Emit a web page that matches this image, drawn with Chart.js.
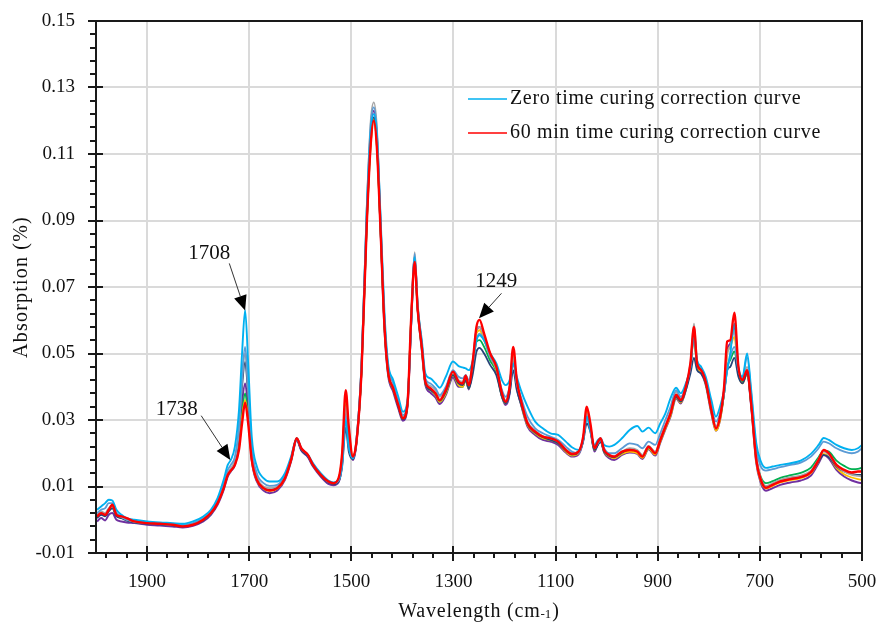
<!DOCTYPE html>
<html>
<head>
<meta charset="utf-8">
<script src="https://cdn.jsdelivr.net/npm/chart.js@4.4.0/dist/chart.umd.min.js"></script>
<style>
    html, body { margin: 0; padding: 0; background: #fff; }
</style>
</head>
<body>
<canvas id="spectrumChart" width="882" height="630"></canvas>
<script>
// Wavenumbers (cm-1), shared by every curve
const wavenumbers = [
    1998, 1990, 1982, 1975, 1968, 1960, 1950, 1940, 1925, 1900,
    1875, 1850, 1830, 1810, 1790, 1775, 1762, 1750, 1742, 1736,
    1728, 1720, 1714, 1708, 1702, 1695, 1685, 1672, 1660, 1645,
    1630, 1618, 1607, 1598, 1585, 1575, 1560, 1545, 1535, 1525,
    1518, 1511, 1505, 1497, 1490, 1480, 1470, 1462, 1456, 1450,
    1443, 1435, 1428, 1418, 1408, 1399, 1390, 1383, 1376, 1370,
    1362, 1355, 1345, 1335, 1327, 1315, 1301, 1290, 1282, 1276,
    1270, 1262, 1255, 1249, 1240, 1228, 1216, 1205, 1198, 1190,
    1183, 1176, 1168, 1155, 1140, 1125, 1110, 1095, 1080, 1068,
    1055, 1046, 1039, 1032, 1024, 1017, 1012, 1005, 995, 985,
    970, 955, 940, 930, 918, 905, 895, 885, 875, 864,
    855, 845, 836, 829, 823, 815, 806, 795, 786, 778,
    770, 764, 758, 750, 742, 734, 725, 717, 707, 698,
    688, 675, 660, 640, 620, 600, 585, 575, 565, 550,
    535, 520, 508, 500
];

const zeroTime = [
    0.003, 0.004, 0.005, 0.006, 0.0058, 0.003, 0.0015, 0.0005, 0.0, -0.0005,
    -0.0008, -0.001, -0.0012, -0.0005, 0.001, 0.003, 0.0065, 0.012, 0.0165, 0.018,
    0.022, 0.033, 0.050, 0.063, 0.047, 0.025, 0.016, 0.0125, 0.0115, 0.0115,
    0.014, 0.019, 0.0245, 0.0215, 0.0195, 0.017, 0.014, 0.0118, 0.0112, 0.012,
    0.017, 0.030, 0.022, 0.0185, 0.024, 0.047, 0.092, 0.117, 0.122, 0.116,
    0.092, 0.062, 0.047, 0.042, 0.037, 0.0325, 0.036, 0.058, 0.079, 0.064,
    0.054, 0.044, 0.0425, 0.041, 0.0397, 0.043, 0.0476, 0.0462, 0.0458, 0.0455,
    0.045, 0.048, 0.054, 0.0555, 0.054, 0.050, 0.047, 0.042, 0.0405, 0.042,
    0.047, 0.043, 0.039, 0.034, 0.0295, 0.0275, 0.026, 0.0255, 0.0235, 0.0218,
    0.021, 0.0245, 0.031, 0.027, 0.0225, 0.024, 0.0245, 0.0225, 0.022, 0.0225,
    0.0245, 0.027, 0.0282, 0.0265, 0.0277, 0.026, 0.029, 0.032, 0.0365, 0.0397,
    0.038, 0.041, 0.046, 0.056, 0.048, 0.046, 0.043, 0.036, 0.031, 0.034,
    0.039, 0.045, 0.050, 0.059, 0.046, 0.043, 0.050, 0.039, 0.023, 0.0175,
    0.0156, 0.016, 0.0165, 0.017, 0.0178, 0.0198, 0.0225, 0.0246, 0.024, 0.0225,
    0.0215, 0.021, 0.0215, 0.0225
];

const steelBlue = [
    0.002, 0.003, 0.0035, 0.005, 0.005, 0.002, 0.001, 0.0, -0.0005, -0.0008,
    -0.001, -0.0012, -0.0015, -0.001, 0.0005, 0.0025, 0.006, 0.011, 0.015, 0.0165,
    0.019, 0.028, 0.043, 0.052, 0.040, 0.022, 0.014, 0.011, 0.0102, 0.0105,
    0.0135, 0.0185, 0.0245, 0.0215, 0.0195, 0.0168, 0.0138, 0.0115, 0.011, 0.0118,
    0.0165, 0.031, 0.022, 0.0185, 0.024, 0.047, 0.093, 0.119, 0.124, 0.117,
    0.091, 0.060, 0.046, 0.041, 0.0355, 0.0315, 0.0355, 0.059, 0.080, 0.064,
    0.053, 0.0425, 0.041, 0.0395, 0.0375, 0.040, 0.045, 0.043, 0.0425, 0.0435,
    0.042, 0.047, 0.054, 0.056, 0.054, 0.049, 0.0455, 0.039, 0.037, 0.040,
    0.047, 0.041, 0.037, 0.031, 0.0275, 0.026, 0.025, 0.024, 0.022, 0.0205,
    0.020, 0.024, 0.031, 0.027, 0.022, 0.023, 0.024, 0.0215, 0.020, 0.020,
    0.0215, 0.023, 0.0225, 0.0215, 0.0235, 0.0225, 0.026, 0.030, 0.034, 0.039,
    0.037, 0.040, 0.046, 0.055, 0.047, 0.045, 0.042, 0.034, 0.0295, 0.032,
    0.038, 0.045, 0.049, 0.052, 0.045, 0.0425, 0.049, 0.038, 0.0215, 0.016,
    0.0148, 0.0152, 0.0158, 0.0165, 0.0172, 0.019, 0.0215, 0.0235, 0.023, 0.0215,
    0.0205, 0.020, 0.0205, 0.0215
];

const grayRun = [
    0.0015, 0.0025, 0.002, 0.0035, 0.004, 0.0015, 0.0008, 0.0, -0.0006, -0.001,
    -0.0012, -0.0015, -0.0018, -0.0013, 0.0, 0.002, 0.0055, 0.010, 0.014, 0.0155,
    0.018, 0.027, 0.042, 0.050, 0.039, 0.021, 0.013, 0.010, 0.0095, 0.010,
    0.013, 0.0183, 0.0245, 0.0215, 0.0195, 0.0166, 0.0136, 0.0114, 0.011, 0.012,
    0.018, 0.034, 0.024, 0.0188, 0.024, 0.047, 0.093, 0.120, 0.1255, 0.118,
    0.091, 0.060, 0.046, 0.041, 0.0352, 0.031, 0.0355, 0.060, 0.0805, 0.065,
    0.053, 0.042, 0.0402, 0.039, 0.037, 0.0395, 0.0445, 0.042, 0.0415, 0.0435,
    0.041, 0.048, 0.057, 0.058, 0.055, 0.0495, 0.0458, 0.0385, 0.036, 0.040,
    0.049, 0.041, 0.0365, 0.0295, 0.0268, 0.0252, 0.0245, 0.0235, 0.0212, 0.020,
    0.0205, 0.0245, 0.032, 0.028, 0.0215, 0.0232, 0.024, 0.021, 0.0195, 0.0192,
    0.0205, 0.0215, 0.021, 0.0195, 0.0222, 0.0205, 0.0245, 0.0285, 0.0325, 0.0385,
    0.0365, 0.0405, 0.047, 0.059, 0.048, 0.0455, 0.042, 0.0335, 0.028, 0.0315,
    0.039, 0.050, 0.052, 0.057, 0.0455, 0.0425, 0.046, 0.036, 0.019, 0.0125,
    0.0102, 0.011, 0.012, 0.0128, 0.0133, 0.0148, 0.0182, 0.0205, 0.0195, 0.0163,
    0.0145, 0.0135, 0.0132, 0.013
];

const navyRun = [
    0.0005, 0.0015, 0.001, 0.0025, 0.0035, 0.001, 0.0005, -0.0003, -0.0008, -0.0012,
    -0.0014, -0.0017, -0.002, -0.0015, -0.0002, 0.0018, 0.005, 0.0095, 0.0135, 0.015,
    0.0172, 0.026, 0.040, 0.0475, 0.037, 0.020, 0.0125, 0.0097, 0.009, 0.0097,
    0.0127, 0.018, 0.024, 0.021, 0.019, 0.0163, 0.0133, 0.0112, 0.0107, 0.0115,
    0.016, 0.0277, 0.0205, 0.0182, 0.0232, 0.045, 0.089, 0.115, 0.121, 0.114,
    0.088, 0.058, 0.0445, 0.0395, 0.034, 0.0302, 0.0345, 0.058, 0.078, 0.063,
    0.052, 0.041, 0.039, 0.0378, 0.0358, 0.0385, 0.0435, 0.041, 0.0405, 0.042,
    0.0395, 0.044, 0.0505, 0.0517, 0.050, 0.0465, 0.0435, 0.037, 0.035, 0.038,
    0.045, 0.039, 0.035, 0.0288, 0.0262, 0.0248, 0.024, 0.023, 0.0208, 0.0196,
    0.0202, 0.0235, 0.029, 0.0265, 0.021, 0.0225, 0.0235, 0.0205, 0.0192, 0.0188,
    0.0202, 0.0212, 0.0207, 0.0193, 0.0218, 0.0202, 0.024, 0.028, 0.032, 0.037,
    0.0355, 0.039, 0.044, 0.0487, 0.045, 0.044, 0.041, 0.033, 0.0278, 0.031,
    0.038, 0.045, 0.046, 0.0487, 0.043, 0.041, 0.044, 0.0345, 0.0185, 0.012,
    0.0098, 0.0106, 0.0116, 0.0123, 0.0129, 0.0144, 0.0175, 0.0195, 0.0188, 0.016,
    0.0145, 0.0137, 0.0135, 0.0135
];

const purpleRun = [
    -0.0005, 0.0005, -0.0002, 0.0015, 0.002, 0.0, -0.0005, -0.0008, -0.001, -0.0015,
    -0.0017, -0.002, -0.0023, -0.0018, -0.0005, 0.0015, 0.0045, 0.009, 0.013, 0.0145,
    0.0165, 0.023, 0.035, 0.041, 0.033, 0.018, 0.0115, 0.0088, 0.008, 0.0088,
    0.012, 0.0175, 0.024, 0.0208, 0.0188, 0.016, 0.013, 0.0108, 0.0104, 0.0113,
    0.0175, 0.034, 0.024, 0.018, 0.023, 0.045, 0.089, 0.116, 0.123, 0.115,
    0.088, 0.057, 0.0435, 0.0385, 0.0335, 0.0298, 0.034, 0.059, 0.079, 0.063,
    0.051, 0.0405, 0.0382, 0.0367, 0.0348, 0.0375, 0.0428, 0.040, 0.040, 0.0422,
    0.0392, 0.047, 0.057, 0.058, 0.055, 0.049, 0.045, 0.037, 0.0345, 0.038,
    0.050, 0.040, 0.0348, 0.028, 0.0255, 0.024, 0.0235, 0.0225, 0.0202, 0.019,
    0.0197, 0.024, 0.032, 0.028, 0.0205, 0.0228, 0.0238, 0.0202, 0.0185, 0.018,
    0.0195, 0.0202, 0.0198, 0.0183, 0.0212, 0.0193, 0.0232, 0.0272, 0.031, 0.0365,
    0.035, 0.039, 0.046, 0.057, 0.046, 0.044, 0.0405, 0.032, 0.0268, 0.030,
    0.039, 0.051, 0.053, 0.058, 0.0445, 0.0415, 0.044, 0.034, 0.017, 0.011,
    0.0087, 0.0095, 0.0105, 0.0112, 0.0118, 0.0133, 0.017, 0.0195, 0.0185, 0.015,
    0.013, 0.0118, 0.0112, 0.011
];

const greenRun = [
    0.0008, 0.0018, 0.0012, 0.0028, 0.0035, 0.0012, 0.0006, 0.0, -0.0007, -0.0011,
    -0.0013, -0.0016, -0.0019, -0.0014, 0.0, 0.0019, 0.0052, 0.0095, 0.0135, 0.0148,
    0.0168, 0.022, 0.032, 0.038, 0.031, 0.0185, 0.012, 0.0095, 0.0088, 0.0095,
    0.0125, 0.018, 0.0245, 0.0213, 0.0193, 0.0164, 0.0134, 0.0114, 0.0109, 0.0122,
    0.019, 0.036, 0.026, 0.0188, 0.0233, 0.045, 0.088, 0.113, 0.1205, 0.1125,
    0.088, 0.058, 0.0442, 0.0392, 0.0342, 0.0303, 0.0348, 0.060, 0.0775, 0.063,
    0.0515, 0.041, 0.039, 0.0375, 0.0355, 0.038, 0.0435, 0.0405, 0.040, 0.042,
    0.0395, 0.046, 0.0535, 0.054, 0.052, 0.0478, 0.0445, 0.037, 0.035, 0.039,
    0.049, 0.0405, 0.035, 0.0285, 0.026, 0.0245, 0.024, 0.023, 0.0207, 0.0195,
    0.0202, 0.024, 0.031, 0.0275, 0.021, 0.0228, 0.0238, 0.0205, 0.019, 0.0187,
    0.020, 0.0207, 0.0202, 0.0188, 0.0215, 0.0198, 0.0237, 0.0277, 0.0315, 0.037,
    0.0355, 0.0395, 0.046, 0.055, 0.046, 0.0445, 0.041, 0.0327, 0.0272, 0.0305,
    0.038, 0.046, 0.048, 0.0506, 0.044, 0.0415, 0.044, 0.035, 0.0185, 0.0128,
    0.011, 0.0116, 0.0126, 0.0134, 0.0141, 0.0157, 0.0188, 0.0208, 0.0205, 0.0178,
    0.0162, 0.0152, 0.0153, 0.0157
];

const goldRun = [
    0.0012, 0.0022, 0.0018, 0.003, 0.004, 0.0013, 0.0007, 0.0, -0.0006, -0.001,
    -0.0012, -0.0015, -0.0019, -0.0014, 0.0, 0.002, 0.005, 0.0095, 0.0135, 0.0148,
    0.0167, 0.0215, 0.031, 0.036, 0.030, 0.018, 0.012, 0.0094, 0.0087, 0.0094,
    0.0124, 0.018, 0.0245, 0.0213, 0.0193, 0.0164, 0.0134, 0.0114, 0.0109, 0.0123,
    0.0195, 0.037, 0.027, 0.019, 0.0233, 0.045, 0.088, 0.113, 0.1205, 0.1125,
    0.088, 0.058, 0.0443, 0.0393, 0.0343, 0.0303, 0.0348, 0.060, 0.0775, 0.063,
    0.0515, 0.041, 0.039, 0.0375, 0.0355, 0.038, 0.0435, 0.0405, 0.040, 0.042,
    0.0395, 0.047, 0.056, 0.057, 0.054, 0.049, 0.045, 0.0372, 0.035, 0.0395,
    0.0505, 0.041, 0.0352, 0.0285, 0.026, 0.0245, 0.024, 0.023, 0.0205, 0.0193,
    0.020, 0.0245, 0.033, 0.028, 0.021, 0.023, 0.024, 0.0205, 0.019, 0.0185,
    0.0198, 0.0205, 0.020, 0.0186, 0.0215, 0.0196, 0.0235, 0.0275, 0.0313, 0.0368,
    0.0352, 0.0392, 0.0462, 0.0565, 0.046, 0.0443, 0.0408, 0.0325, 0.0268, 0.030,
    0.0385, 0.050, 0.052, 0.055, 0.044, 0.041, 0.044, 0.0345, 0.0175, 0.0115,
    0.0094, 0.0102, 0.0112, 0.0119, 0.0125, 0.014, 0.0175, 0.0198, 0.019, 0.0156,
    0.0137, 0.0127, 0.0122, 0.012
];

const sixtyMin = [
    0.001, 0.002, 0.0015, 0.003, 0.0045, 0.0015, 0.001, 0.0005, -0.0005, -0.001,
    -0.0012, -0.0015, -0.002, -0.0015, 0.0, 0.002, 0.005, 0.0095, 0.0135, 0.0148,
    0.0165, 0.021, 0.029, 0.0352, 0.029, 0.018, 0.012, 0.0095, 0.0088, 0.0095,
    0.0125, 0.018, 0.0245, 0.0215, 0.0195, 0.0165, 0.0135, 0.0115, 0.011, 0.0125,
    0.020, 0.039, 0.028, 0.019, 0.0235, 0.045, 0.088, 0.113, 0.120, 0.112,
    0.088, 0.058, 0.0445, 0.0395, 0.0345, 0.0305, 0.035, 0.060, 0.0775, 0.063,
    0.052, 0.0415, 0.0395, 0.038, 0.036, 0.039, 0.0445, 0.0415, 0.041, 0.0433,
    0.0405, 0.048, 0.058, 0.0601, 0.056, 0.050, 0.046, 0.038, 0.0355, 0.040,
    0.052, 0.042, 0.036, 0.029, 0.0265, 0.025, 0.0245, 0.0235, 0.021, 0.0198,
    0.0205, 0.025, 0.034, 0.029, 0.0215, 0.0235, 0.0245, 0.021, 0.0195, 0.019,
    0.0205, 0.021, 0.0205, 0.019, 0.022, 0.020, 0.024, 0.028, 0.032, 0.0376,
    0.036, 0.040, 0.047, 0.058, 0.047, 0.045, 0.0415, 0.033, 0.0275, 0.031,
    0.040, 0.0536, 0.054, 0.0623, 0.046, 0.042, 0.045, 0.035, 0.018, 0.012,
    0.0096, 0.0105, 0.0115, 0.0122, 0.0128, 0.0143, 0.018, 0.021, 0.020, 0.0165,
    0.015, 0.0142, 0.0145, 0.0145
];

// Axis ticks
const xMajorTicks = [1900, 1700, 1500, 1300, 1100, 900, 700, 500];
const xMinorStep = 40;
const yMajorTicks = [-0.01, 0.01, 0.03, 0.05, 0.07, 0.09, 0.11, 0.13, 0.15];
const yMinorPerMajor = 5;

// Peak call-outs: [wavenumber, absorption] for label, line start and arrow tip
const callouts = [
    { text: '1708', label: [1778, 0.0801], from: [1739, 0.0771], tip: [1708, 0.0629] },
    { text: '1738', label: [1842, 0.0333], from: [1794, 0.0313], tip: [1737, 0.0180] },
    { text: '1249', label: [1216, 0.0716], from: [1206, 0.0681], tip: [1250, 0.0606] }
];

const FONT = '"Liberation Serif", "DejaVu Serif", serif';
const ZERO_COLOR = '#00B0F0';
const SIXTY_COLOR = '#FF0000';

const seriesList = [
    { label: 'Zero time curing correction curve', values: zeroTime, color: ZERO_COLOR, width: 1.9, order: 1, legend: true },
    { label: 'run 2', values: steelBlue, color: '#5B9BD5', width: 1.8, order: 2 },
    { label: 'run 3', values: grayRun, color: '#A5A5A5', width: 1.8, order: 3 },
    { label: 'run 4', values: greenRun, color: '#00B050', width: 1.8, order: 6 },
    { label: 'run 5', values: goldRun, color: '#FFC000', width: 1.8, order: 5 },
    { label: 'run 6', values: navyRun, color: '#264478', width: 1.8, order: 4 },
    { label: 'run 7', values: purpleRun, color: '#7030A0', width: 2.0, order: 7 },
    { label: '60 min time curing correction curve', values: sixtyMin, color: SIXTY_COLOR, width: 2.4, order: 0, legend: true }
];

function isMajor(list, v) {
    return list.some(m => Math.abs(m - v) < 1e-9);
}

function buildXTicks() {
    const ticks = [];
    for (let v = 500; v < 2000; v += xMinorStep) ticks.push({ value: v });
    return ticks;
}

function buildYTicks() {
    const ticks = [];
    for (let i = 0; i < yMajorTicks.length; i++) {
        ticks.push({ value: yMajorTicks[i] });
        if (i < yMajorTicks.length - 1) {
            const step = (yMajorTicks[i + 1] - yMajorTicks[i]) / yMinorPerMajor;
            for (let k = 1; k < yMinorPerMajor; k++) ticks.push({ value: yMajorTicks[i] + k * step });
        }
    }
    return ticks;
}

// text with a bit of extra tracking, the original face is wider than Liberation Serif
function spacedText(ctx, text, x, y, size, spacing) {
    ctx.font = size + 'px ' + FONT;
    ctx.letterSpacing = spacing + 'px';
    ctx.fillText(text, x, y);
    const w = ctx.measureText(text).width;
    ctx.letterSpacing = '0px';
    return w;
}

const decorPlugin = {
    id: 'decor',
    afterDraw(chart) {
        const { ctx, chartArea: a, scales: { x, y } } = chart;
        ctx.save();

        // tick marks
        ctx.strokeStyle = '#1a1a1a';
        ctx.lineWidth = 2;
        x.ticks.forEach(t => {
            const px = Math.round(x.getPixelForValue(t.value));
            const major = isMajor(xMajorTicks, t.value);
            ctx.beginPath();
            ctx.moveTo(px, a.bottom + (major ? 8 : 5));
            ctx.lineTo(px, a.bottom - (major ? 7 : 0));
            ctx.stroke();
        });
        y.ticks.forEach(t => {
            const py = Math.round(y.getPixelForValue(t.value));
            const major = isMajor(yMajorTicks, t.value);
            ctx.beginPath();
            ctx.moveTo(a.left - (major ? 8 : 6), py);
            ctx.lineTo(a.left + (major ? 7 : 0), py);
            ctx.stroke();
        });

        // frame
        ctx.strokeRect(a.left, a.top, a.right - a.left, a.bottom - a.top);

        // legend
        ctx.textBaseline = 'middle';
        ctx.textAlign = 'left';
        seriesList.filter(s => s.legend).forEach((s, i) => {
            const ly = a.top + 78 + i * 34;
            ctx.strokeStyle = s.color;
            ctx.lineWidth = 1.5;
            ctx.beginPath();
            ctx.moveTo(a.left + 372, ly);
            ctx.lineTo(a.left + 411, ly);
            ctx.stroke();
            ctx.fillStyle = '#111';
            spacedText(ctx, s.label, a.left + 414, ly, 20, 0.65);
        });

        // call-outs
        callouts.forEach(c => {
            const lx = x.getPixelForValue(c.label[0]), ly = y.getPixelForValue(c.label[1]);
            const fx = x.getPixelForValue(c.from[0]), fy = y.getPixelForValue(c.from[1]);
            const tx = x.getPixelForValue(c.tip[0]), ty = y.getPixelForValue(c.tip[1]);
            ctx.fillStyle = '#111';
            ctx.textAlign = 'center';
            ctx.font = '21px ' + FONT;
            ctx.fillText(c.text, lx, ly);

            const ang = Math.atan2(ty - fy, tx - fx);
            const headLen = 15, headHalf = 6.5;
            const bx = tx - headLen * Math.cos(ang), by = ty - headLen * Math.sin(ang);
            ctx.strokeStyle = '#333';
            ctx.lineWidth = 1;
            ctx.beginPath();
            ctx.moveTo(fx, fy);
            ctx.lineTo(bx, by);
            ctx.stroke();
            ctx.fillStyle = '#000';
            ctx.beginPath();
            ctx.moveTo(tx, ty);
            ctx.lineTo(bx + headHalf * Math.sin(ang), by - headHalf * Math.cos(ang));
            ctx.lineTo(bx - headHalf * Math.sin(ang), by + headHalf * Math.cos(ang));
            ctx.closePath();
            ctx.fill();
        });

        // axis titles
        ctx.fillStyle = '#111';
        ctx.save();
        ctx.translate(22, (a.top + a.bottom) / 2);
        ctx.rotate(-Math.PI / 2);
        ctx.textAlign = 'center';
        spacedText(ctx, 'Absorption (%)', 0, 0, 20, 1.2);
        ctx.restore();

        const main = 'Wavelength (cm', sup = '-1', tail = ')';
        ctx.textAlign = 'left';
        ctx.font = '20px ' + FONT;
        ctx.letterSpacing = '0.8px';
        const w1 = ctx.measureText(main).width, w3 = ctx.measureText(tail).width;
        ctx.letterSpacing = '0px';
        ctx.font = '13px ' + FONT;
        const w2 = ctx.measureText(sup).width + 1;
        const startX = (a.left + a.right) / 2 - (w1 + w2 + w3) / 2;
        const ty0 = 612;
        spacedText(ctx, main, startX, ty0, 20, 0.8);
        ctx.font = '13px ' + FONT;
        ctx.fillText(sup, startX + w1, ty0 + 3);
        spacedText(ctx, tail, startX + w1 + w2, ty0, 20, 0.8);

        ctx.restore();
    }
};

new Chart(document.getElementById('spectrumChart'), {
    type: 'line',
    data: {
        datasets: seriesList.map(s => ({
            label: s.label,
            data: wavenumbers.map((w, i) => ({ x: w, y: s.values[i] })),
            borderColor: s.color,
            borderWidth: s.width,
            pointRadius: 0,
            fill: false,
            cubicInterpolationMode: 'monotone',
            order: s.order
        }))
    },
    options: {
        responsive: false,
        animation: false,
        layout: { padding: { top: 21, right: 20, left: 0, bottom: 0 } },
        plugins: {
            legend: { display: false },
            tooltip: { enabled: false }
        },
        scales: {
            x: {
                type: 'linear',
                reverse: true,
                min: 500,
                max: 2000,
                afterBuildTicks: scale => { scale.ticks = buildXTicks(); },
                afterFit: scale => {
                    scale.height = 77;
                    scale.paddingLeft = 0;
                    scale.paddingRight = 0;
                },
                grid: {
                    drawTicks: false,
                    lineWidth: 2,
                    color: ctx => isMajor(xMajorTicks, ctx.tick ? ctx.tick.value : NaN) ? '#dadada' : 'rgba(0,0,0,0)'
                },
                border: { display: false },
                ticks: {
                    autoSkip: false,
                    maxRotation: 0,
                    padding: 18,
                    color: '#111',
                    font: { family: FONT, size: 19 },
                    callback: v => isMajor(xMajorTicks, v) ? String(v) : ''
                }
            },
            y: {
                min: -0.01,
                max: 0.15,
                afterBuildTicks: scale => { scale.ticks = buildYTicks(); },
                afterFit: scale => {
                    scale.width = 96;
                    scale.paddingTop = 0;
                    scale.paddingBottom = 0;
                },
                grid: {
                    drawTicks: false,
                    lineWidth: 2,
                    color: ctx => isMajor(yMajorTicks, ctx.tick ? ctx.tick.value : NaN) ? '#dadada' : 'rgba(0,0,0,0)'
                },
                border: { display: false },
                ticks: {
                    autoSkip: false,
                    padding: 21,
                    color: '#111',
                    font: { family: FONT, size: 19 },
                    callback: v => isMajor(yMajorTicks, v) ? v.toFixed(2) : ''
                }
            }
        }
    },
    plugins: [decorPlugin]
});
</script>
</body>
</html>
